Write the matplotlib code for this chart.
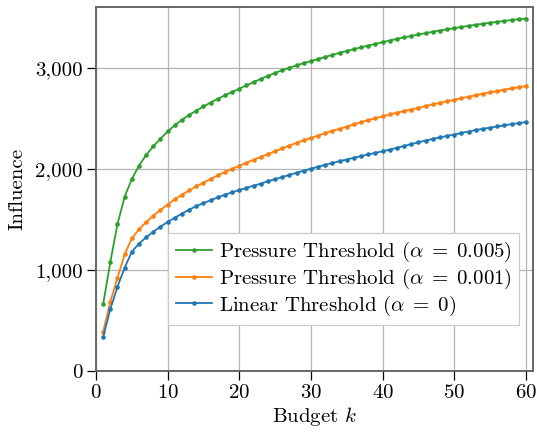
import matplotlib
matplotlib.use("Agg")
import matplotlib.pyplot as plt
from matplotlib.ticker import FuncFormatter, MultipleLocator

plt.rcParams['font.family'] = 'serif'
plt.rcParams['font.serif'] = ['cmr10', 'DejaVu Serif']
plt.rcParams['mathtext.fontset'] = 'cm'
plt.rcParams['axes.formatter.use_mathtext'] = True

budget = list(range(1, 61))

pressure_005 = [663, 1079, 1455, 1726, 1901, 2033, 2139, 2225, 2300, 2372,
                2433, 2488, 2535, 2578, 2619, 2658, 2695, 2730, 2763, 2795,
                2828, 2860, 2892, 2922, 2951, 2978, 3003, 3026, 3048, 3068,
                3089, 3110, 3130, 3150, 3169, 3187, 3205, 3222, 3239, 3256,
                3272, 3288, 3303, 3318, 3332, 3345, 3358, 3371, 3383, 3395,
                3406, 3417, 3428, 3438, 3448, 3457, 3466, 3475, 3483, 3490]

pressure_001 = [389, 686, 924, 1155, 1313, 1402, 1475, 1538, 1594, 1648,
                1701, 1746, 1788, 1828, 1866, 1902, 1937, 1970, 2002, 2032,
                2062, 2092, 2120, 2148, 2176, 2203, 2232, 2259, 2285, 2308,
                2331, 2355, 2378, 2398, 2420, 2442, 2463, 2484, 2503, 2521,
                2540, 2558, 2573, 2589, 2606, 2623, 2639, 2656, 2671, 2685,
                2701, 2715, 2731, 2745, 2758, 2772, 2785, 2798, 2810, 2820]

linear_0 = [337, 611, 835, 1023, 1181, 1261, 1323, 1379, 1429, 1475,
            1518, 1558, 1598, 1632, 1663, 1690, 1719, 1746, 1769, 1792,
            1812, 1835, 1855, 1880, 1899, 1920, 1942, 1963, 1983, 2003,
            2022, 2041, 2060, 2077, 2094, 2111, 2128, 2144, 2160, 2175,
            2192, 2209, 2228, 2246, 2264, 2282, 2298, 2313, 2328, 2341,
            2357, 2371, 2385, 2398, 2410, 2421, 2433, 2444, 2454, 2464]

labels = [r'Pressure Threshold ($\alpha\;=\;0.005$)',
          r'Pressure Threshold ($\alpha\;=\;0.001$)',
          r'Linear Threshold ($\alpha\;=\;0$)']
colors = ['#2ca02c', '#ff7f0e', '#1f77b4']

fig = plt.figure(figsize=(5.37, 4.37), dpi=100)
ax = fig.add_axes([96/537, 1-371/437, (533-96)/537, (371-7.4)/437])

for ys, lab, c in zip([pressure_005, pressure_001, linear_0], labels, colors):
    ax.plot(budget, ys, color=c, lw=1.3, marker='o', markersize=2.3, label=lab)

ax.set_xlim(0, 61)
ax.set_ylim(0, 3600)
ax.xaxis.set_major_locator(MultipleLocator(10))
ax.yaxis.set_major_locator(MultipleLocator(1000))
ax.yaxis.set_major_formatter(FuncFormatter(lambda v, p: f"{int(v):,}"))
ax.grid(True, color='#b5b5b5', lw=0.9)
ax.set_axisbelow(True)
for s in ax.spines.values():
    s.set_color('#666666')
    s.set_linewidth(1.4)
ax.tick_params(direction='out', length=6.5, width=0.9, color='black',
               labelsize=15, pad=3)

ax.set_xlabel(r'Budget $k$', fontsize=15, labelpad=2)
ax.set_ylabel('Influence', fontsize=15, labelpad=6)

leg = ax.legend(loc='lower right', bbox_to_anchor=(0.968, 0.1265), borderaxespad=0,
                fontsize=15, fancybox=False, framealpha=1, edgecolor='#cccccc',
                handlelength=1.75, handletextpad=0.33, labelspacing=0.12,
                borderpad=0.35)
leg.get_frame().set_linewidth(0.9)

fig.savefig('out.png', dpi=100)
